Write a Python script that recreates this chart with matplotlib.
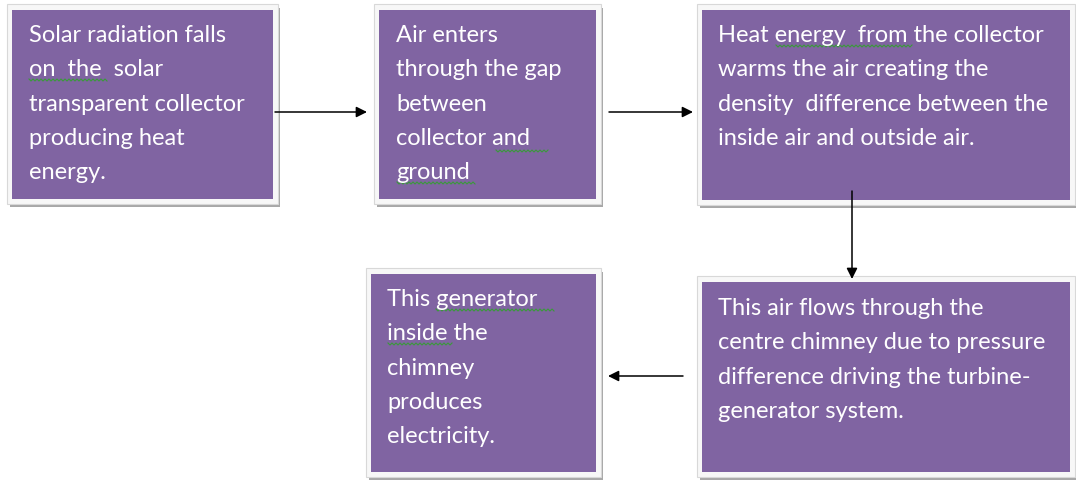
import numpy as np
import matplotlib.pyplot as plt
from matplotlib.patches import Rectangle

# text of each step
steps = [
    "Solar radiation falls\non  the  solar\ntransparent collector\nproducing heat\nenergy.",
    "Air enters\nthrough the gap\nbetween\ncollector and\nground",
    "Heat energy  from the collector\nwarms the air creating the\ndensity  difference between the\ninside air and outside air.",
    "This air flows through the\ncentre chimney due to pressure\ndifference driving the turbine-\ngenerator system.",
    "This generator\ninside the\nchimney\nproduces\nelectricity.",
]
# order of the flow: from step i to step j
links = [(0, 1), (1, 2), (2, 3), (3, 4)]

# layout in pixels (x0, y0, x1, y1) of the purple area
boxes = [
    (12, 11, 273, 200),
    (379, 11, 596, 200),
    (702, 11, 1070, 201),
    (702, 283, 1070, 473),
    (371, 275, 596, 473),
]
# first line centre of each text
text_pos = [(29, 35), (396, 35), (718, 35), (718, 308), (387, 299)]
arrows = [
    ((275, 113), (367, 113)),
    ((609, 113), (693, 113)),
    ((852, 192), (852, 280)),
    ((683, 377), (608, 377)),
]
# spell-check squiggles (x start, x end, y)
squiggles = [
    (29, 108, 81), (496, 548, 152), (397, 476, 184),
    (776, 913, 47), (436, 554, 311), (388, 452, 345),
]

purple = '#8064a2'

fig = plt.figure(figsize=(10.76, 4.85), dpi=100)
ax = fig.add_axes([0, 0, 1, 1])
ax.set_xlim(0, 1076)
ax.set_ylim(485, 0)
ax.axis('off')

for (x0, y0, x1, y1), txt, (tx, ty) in zip(boxes, steps, text_pos):
    # shadow, white frame, purple fill
    ax.add_patch(Rectangle((x0 - 2, y0 - 2), x1 - x0 + 9, y1 - y0 + 10,
                           facecolor='#a8a8a8', edgecolor='none'))
    ax.add_patch(Rectangle((x0 - 5, y0 - 6), x1 - x0 + 10, y1 - y0 + 11,
                           facecolor='#f7f7f7', edgecolor='#d8d8d8', lw=0.8))
    ax.add_patch(Rectangle((x0, y0), x1 - x0, y1 - y0,
                           facecolor=purple, edgecolor='none'))
    ax.text(tx, ty - 10, txt, color='white', fontsize=17, family='Lato',
            va='top', ha='left', linespacing=1.78)

for (xa, xb, y) in squiggles:
    xs = np.arange(xa, xb + 1, 2)
    ys = y + np.where(np.arange(len(xs)) % 2 == 0, -1, 1)
    ax.plot(xs, ys, color='#3a9a3a', lw=0.8)

for (s, e) in arrows:
    ax.annotate('', xy=e, xytext=s,
                arrowprops=dict(arrowstyle='-|>', color='black', lw=1.1,
                                mutation_scale=16, shrinkA=0, shrinkB=0))

fig.savefig('out.png', dpi=100, facecolor='white')
